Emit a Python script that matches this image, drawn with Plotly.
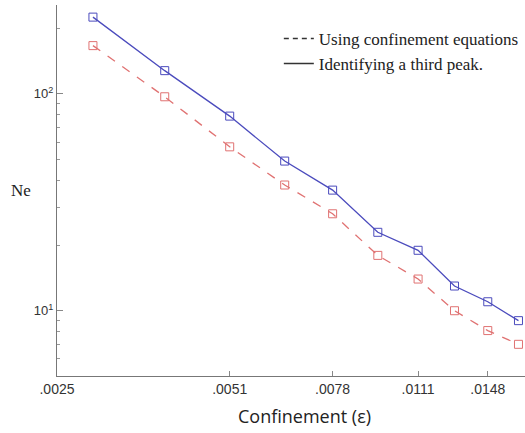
import plotly.graph_objects as go
import math

# Data
confinement = [0.0029, 0.0039, 0.0051, 0.0064, 0.0078, 0.0094, 0.0111, 0.0129, 0.0148, 0.0168]
ne_third_peak = [226, 128, 79, 49, 36, 23, 19, 13, 11, 9]
ne_confinement_eq = [167, 97, 57, 38, 28, 18, 14, 10, 8.1, 7.0]

x_tick_vals = [0.0025, 0.0051, 0.0078, 0.0111, 0.0148]
x_tick_text = [".0025", ".0051", ".0078", ".0111", ".0148"]
y_tick_vals = [10, 100]
y_tick_text = ["10<sup>1</sup>", "10<sup>2</sup>"]
y_minor_vals = [6, 7, 8, 9, 20, 30, 40, 50, 60, 70, 80, 90, 200]

blue = "#4b4bbd"
red = "#e07272"

fig = go.Figure()
fig.add_trace(go.Scatter(
    x=confinement, y=ne_confinement_eq, mode="lines+markers",
    line=dict(color=red, width=1.3, dash="dash"),
    marker=dict(symbol="square-open", size=8, color=red, line=dict(width=1)),
    showlegend=False))
fig.add_trace(go.Scatter(
    x=confinement, y=ne_third_peak, mode="lines+markers",
    line=dict(color=blue, width=1.3),
    marker=dict(symbol="square-open", size=8, color=blue, line=dict(width=1)),
    showlegend=False))
# legend entries (dark, as in the reference)
fig.add_trace(go.Scatter(x=[None], y=[None], mode="lines", name="Using confinement equations",
                         line=dict(color="#333333", width=1.3, dash="5px,4px")))
fig.add_trace(go.Scatter(x=[None], y=[None], mode="lines", name="Identifying a third peak.",
                         line=dict(color="#333333", width=1.5)))

fig.update_layout(
    width=525, height=433,
    margin=dict(l=57, r=0, t=5, b=57),
    paper_bgcolor="white", plot_bgcolor="white",
    font=dict(family="Liberation Sans, Arial", size=14, color="#333333"),
    legend=dict(x=0.474, y=0.957, xanchor="left", yanchor="top",
                font=dict(family="Liberation Serif, Times New Roman", size=17, color="#222222"),
                bgcolor="rgba(0,0,0,0)", tracegroupgap=0, itemwidth=30),
    xaxis=dict(type="log",
               range=[math.log10(0.0025), -1.763],
               tickvals=x_tick_vals, ticktext=x_tick_text,
               ticks="inside", ticklen=5, tickcolor="#888888",
               showline=True, linecolor="#777777", linewidth=1.2,
               showgrid=False, zeroline=False,
               tickfont=dict(family="Liberation Sans, Arial", size=14, color="#333333")),
    yaxis=dict(type="log",
               range=[math.log10(5.0), 2.41],
               tickvals=y_tick_vals, ticktext=y_tick_text,
               ticks="inside", ticklen=6, tickcolor="#888888",
               minor=dict(tickvals=y_minor_vals, ticks="inside", ticklen=3, tickcolor="#999999", showgrid=False),
               showline=True, linecolor="#777777", linewidth=1.2,
               showgrid=False, zeroline=False,
               tickfont=dict(family="Liberation Sans, Arial", size=13, color="#333333")),
    annotations=[
        dict(text="Ne", xref="paper", yref="paper", x=-0.051, y=0.501, showarrow=False,
             xanchor="right", yanchor="middle",
             font=dict(family="Liberation Serif, Times New Roman", size=17, color="#222222")),
        dict(text="Confinement (ε)", xref="paper", yref="paper", x=0.528, y=-0.108,
             showarrow=False, xanchor="center", yanchor="middle",
             font=dict(family="Open Sans, DejaVu Sans", size=18, color="#222222")),
    ],
)

fig.write_html("out.html", config={"displayModeBar": False},
               post_script="document.body.style.margin='0';document.body.style.overflow='hidden';")
